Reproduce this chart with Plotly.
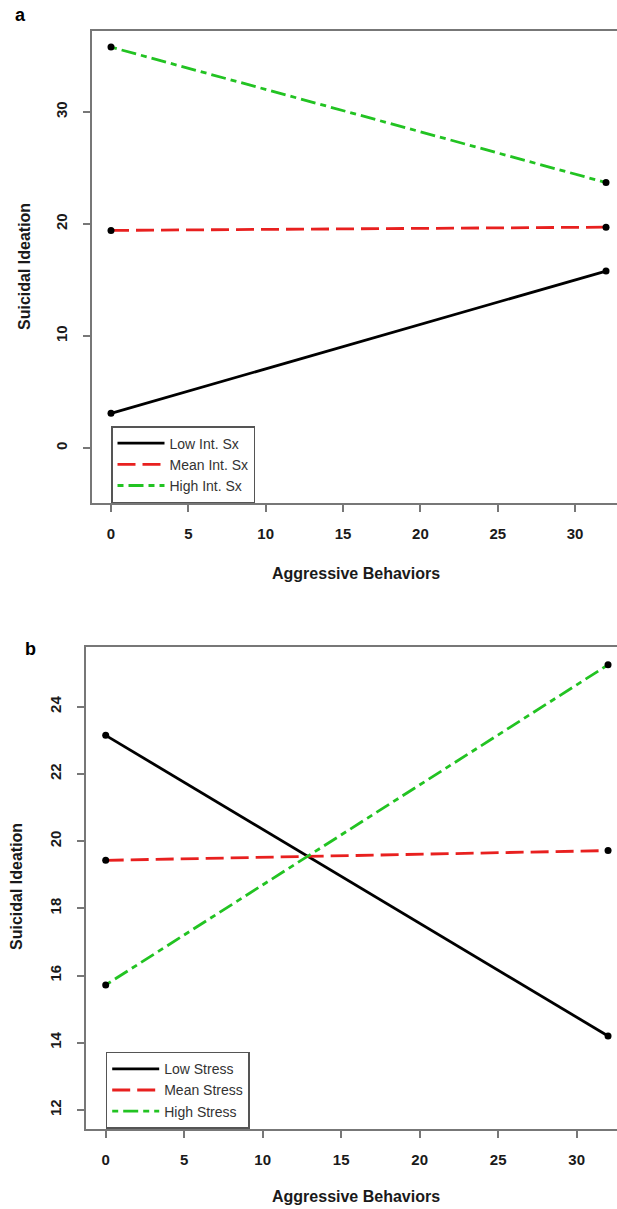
import plotly.graph_objects as go

# ---------------- data ----------------
x_vals = [0, 32]

a_names = ["Low Int. Sx", "Mean Int. Sx", "High Int. Sx"]
a_low = [3.1, 15.8]
a_mean = [19.43, 19.72]
a_high = [35.8, 23.7]

b_names = ["Low Stress", "Mean Stress", "High Stress"]
b_low = [23.15, 14.2]
b_mean = [19.43, 19.72]
b_high = [15.72, 25.25]

x_ticks = [0, 5, 10, 15, 20, 25, 30]
a_yticks = [0, 10, 20, 30]
b_yticks = [12, 14, 16, 18, 20, 22, 24]

x_title = "Aggressive Behaviors"
y_title = "Suicidal Ideation"
panel_labels = ["a", "b"]

# ---------------- style ----------------
W, H = 617, 1209
colors = ["#000000", "#e8201f", "#22c322"]
dashes = ["solid", "18px,7px", "6px,5px,15px,5px"]
FONT = "Liberation Sans"
frame_col = "#777777"


def px_x(p):
    return p / W


def px_y(p):
    return (H - p) / H


fig = go.Figure()

panels = [
    (a_names, [a_low, a_mean, a_high], "x", "y", "legend"),
    (b_names, [b_low, b_mean, b_high], "x2", "y2", "legend2"),
]

for names, series, xa, ya, lg in panels:
    for name, ys, c, d in zip(names, series, colors, dashes):
        fig.add_trace(go.Scatter(
            x=x_vals, y=ys, mode="lines", name=name,
            line=dict(color=c, width=2.8, dash=d),
            xaxis=xa, yaxis=ya, legend=lg, cliponaxis=False,
        ))
    px_list, py_list = [], []
    for ys in series:
        px_list += x_vals
        py_list += ys
    fig.add_trace(go.Scatter(
        x=px_list, y=py_list, mode="markers", showlegend=False,
        marker=dict(color="#000000", size=7),
        xaxis=xa, yaxis=ya, hoverinfo="skip", cliponaxis=False,
    ))

tickfont = dict(family=FONT, size=15, color="#1a1a1a", weight="bold")

common_x = dict(
    tickvals=x_ticks, ticks="outside", ticklen=7, tickwidth=1.5, tickcolor=frame_col,
    showline=True, linecolor=frame_col, linewidth=2, mirror=True,
    showgrid=False, zeroline=False, tickfont=tickfont, ticklabelstandoff=9,
)
common_y = dict(
    ticks="outside", ticklen=7, tickwidth=1.5, tickcolor=frame_col,
    showline=True, linecolor=frame_col, linewidth=2, mirror=False,
    showgrid=False, zeroline=False, tickfont=tickfont, tickangle=-90,
    ticklabelstandoff=10,
)

legend_font = dict(family=FONT, size=14, color="#333333")

fig.update_layout(
    width=W, height=H,
    margin=dict(l=0, r=0, t=0, b=0),
    paper_bgcolor="white", plot_bgcolor="white",
    xaxis=dict(common_x, domain=[px_x(92), 1], range=[-1.228, 32.71], anchor="y"),
    yaxis=dict(common_y, domain=[px_y(503), px_y(30.5)], range=[-4.91, 37.28],
               tickvals=a_yticks, anchor="x"),
    xaxis2=dict(common_x, domain=[px_x(86), 1], range=[-1.255, 32.57], anchor="y2"),
    yaxis2=dict(common_y, domain=[px_y(1128.7), px_y(646.7)], range=[11.44, 25.79],
                tickvals=b_yticks, anchor="x2"),
    legend=dict(x=px_x(111), y=px_y(503), xanchor="left", yanchor="bottom",
                bgcolor="white", bordercolor="#555555", borderwidth=1.5,
                itemwidth=47, font=legend_font),
    legend2=dict(x=px_x(105.7), y=px_y(1128.7), xanchor="left", yanchor="bottom",
                 bgcolor="white", bordercolor="#555555", borderwidth=1.5,
                 itemwidth=47, font=legend_font),
    showlegend=True,
)

title_font = dict(family=FONT, size=16, color="#1a1a1a", weight="bold")
ann = [
    dict(text=x_title, x=px_x(356), y=px_y(573), font=title_font),
    dict(text=x_title, x=px_x(356), y=px_y(1196), font=title_font),
    dict(text=y_title, x=px_x(25), y=px_y(267), font=title_font, textangle=-90),
    dict(text=y_title, x=px_x(17), y=px_y(887), font=title_font, textangle=-90),
    dict(text=panel_labels[0], x=px_x(21), y=px_y(15),
         font=dict(family=FONT, size=18, color="#000000", weight="bold")),
    dict(text=panel_labels[1], x=px_x(30), y=px_y(649),
         font=dict(family=FONT, size=18, color="#000000", weight="bold")),
]
for a in ann:
    a.update(xref="paper", yref="paper", showarrow=False, xanchor="center", yanchor="middle")
fig.update_layout(annotations=ann)

fig.write_html(
    "out.html",
    config={"displayModeBar": False},
    post_script="document.body.style.margin='0';document.body.style.padding='0';",
)
